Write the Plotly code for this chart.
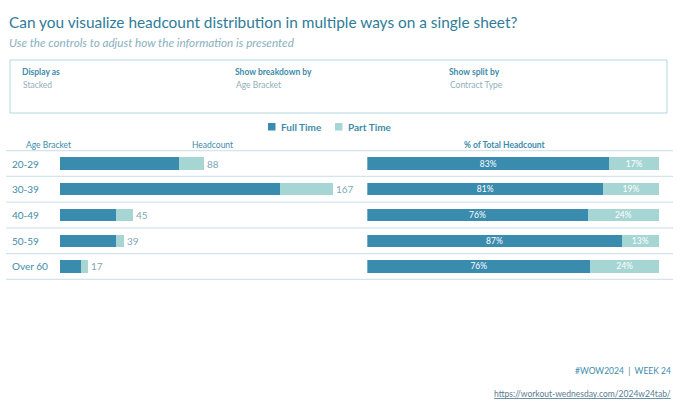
import plotly.graph_objects as go

categories = ["20-29", "30-39", "40-49", "50-59", "Over 60"]
full_time = [73, 135, 34, 34, 13]
part_time = [15, 32, 11, 5, 4]
series_names = ["Full Time", "Part Time"]

totals = [f + p for f, p in zip(full_time, part_time)]
ft_pct = [f / t for f, t in zip(full_time, totals)]
pt_pct = [p / t for p, t in zip(part_time, totals)]

C_FT = "#3A8CAF"
C_PT = "#A5D6D3"
TEAL = "#3E8BAA"
TITLE = "#2F7C98"
GRAY = "#8AAFBF"
FONT = "Lato"
colors = [C_FT, C_PT]

W, H = 680, 408
def px(x):
    return x / W
def py(y):
    return 1 - y / H

fig = go.Figure()
fig.add_trace(go.Bar(y=categories, x=full_time, orientation="h", name=series_names[0],
                     marker=dict(color=C_FT, line=dict(width=0)), xaxis="x", yaxis="y",
                     hoverinfo="skip"))
fig.add_trace(go.Bar(y=categories, x=part_time, orientation="h", name=series_names[1],
                     marker=dict(color=C_PT, line=dict(width=0)), xaxis="x", yaxis="y",
                     hoverinfo="skip"))
fig.add_trace(go.Bar(y=categories, x=ft_pct, orientation="h", name=series_names[0],
                     marker=dict(color=C_FT, line=dict(width=0)), xaxis="x2", yaxis="y",
                     text=[f"{v:.0%}" for v in ft_pct],
                     textposition="inside", insidetextanchor="middle",
                     textfont=dict(color="white", size=8.5, family=FONT), hoverinfo="skip"))
fig.add_trace(go.Bar(y=categories, x=pt_pct, orientation="h", name=series_names[1],
                     marker=dict(color=C_PT, line=dict(width=0)), xaxis="x2", yaxis="y",
                     text=[f"{v:.0%}" for v in pt_pct],
                     textposition="inside", insidetextanchor="middle",
                     textfont=dict(color="white", size=8.5, family=FONT), hoverinfo="skip"))

annotations = []
shapes = []

# title / subtitle
annotations.append(dict(text="Can you visualize headcount distribution in multiple ways on a single sheet?",
                        x=px(7), y=py(22), xref="paper", yref="paper", xanchor="left", yanchor="middle",
                        showarrow=False, font=dict(size=15.4, color=TITLE, family=FONT)))
annotations.append(dict(text="<i>Use the controls to adjust how the information is presented</i>",
                        x=px(7), y=py(42), xref="paper", yref="paper", xanchor="left", yanchor="middle",
                        showarrow=False, font=dict(size=11.7, color=GRAY, family=FONT)))

# control box
shapes.append(dict(type="rect", xref="paper", yref="paper", x0=px(10), x1=px(667), y0=py(60), y1=py(113),
                   line=dict(color="#B5D5E3", width=1), fillcolor="white", layer="below"))
controls = [("Display as", "Stacked", 20), ("Show breakdown by", "Age Bracket", 233),
            ("Show split by", "Contract Type", 447)]
for lab, val, x in controls:
    annotations.append(dict(text=f"<b>{lab}</b>", x=px(x), y=py(72), xref="paper", yref="paper",
                            xanchor="left", yanchor="middle", showarrow=False,
                            font=dict(size=8.5, color=TEAL, family=FONT)))
    annotations.append(dict(text=val, x=px(x + 1), y=py(85), xref="paper", yref="paper",
                            xanchor="left", yanchor="middle", showarrow=False,
                            font=dict(size=8.5, color="#93AEB9", family=FONT)))

# legend (drawn manually)
for name, col, x in zip(series_names, colors, [268, 335]):
    shapes.append(dict(type="rect", xref="paper", yref="paper", x0=px(x), x1=px(x + 7.5),
                       y0=py(130.5), y1=py(123), line=dict(width=0), fillcolor=col))
    annotations.append(dict(text=f"<b>{name}</b>", x=px(x + 11), y=py(127), xref="paper", yref="paper",
                            xanchor="left", yanchor="middle", showarrow=False,
                            font=dict(size=10, color=TEAL, family=FONT)))

# headers
for txt, x, bold in [("Age Bracket", 48, False), ("Headcount", 212, False), ("% of Total Headcount", 505, True)]:
    annotations.append(dict(text=f"<b>{txt}</b>" if bold else txt, x=px(x), y=py(145), xref="paper", yref="paper",
                            xanchor="center", yanchor="middle", showarrow=False,
                            font=dict(size=8.5, color=TEAL, family=FONT)))

# category labels and totals
for i, c in enumerate(categories):
    annotations.append(dict(text=c, x=px(10), y=c, xref="paper", yref="y", xanchor="left",
                            yanchor="middle", showarrow=False, font=dict(size=10, color=TEAL, family=FONT)))
    annotations.append(dict(text=str(totals[i]), x=totals[i], y=c, xref="x", yref="y", xanchor="left",
                            xshift=1, yanchor="middle", showarrow=False,
                            font=dict(size=10, color="#7FA6B5", family=FONT)))

# row separators
for i in range(len(categories) + 1):
    shapes.append(dict(type="line", xref="paper", yref="y", x0=px(6), x1=px(673), y0=i - 0.5, y1=i - 0.5,
                       line=dict(color="#D3E4EC", width=1.3)))

# footer
annotations.append(dict(text="#WOW2024  |  WEEK 24", x=px(673), y=py(371), xref="paper", yref="paper",
                        xanchor="right", yanchor="middle", showarrow=False,
                        font=dict(size=8.5, color=TEAL, family=FONT)))
annotations.append(dict(text="<u>https://workout-wednesday.com/2024w24tab/</u>", x=px(673), y=py(394),
                        xref="paper", yref="paper", xanchor="right", yanchor="middle", showarrow=False,
                        font=dict(size=8.5, color="#5A7D92", family=FONT)))

fig.update_layout(
    width=W, height=H, margin=dict(l=0, r=0, t=0, b=0),
    paper_bgcolor="white", plot_bgcolor="rgba(0,0,0,0)",
    barmode="stack", bargap=0.52, showlegend=False,
    uniformtext=dict(minsize=8.5, mode="show"),
    font=dict(family=FONT, color=TEAL),
    xaxis=dict(domain=[px(60), px(360)], range=[0, 300 / 1.633], visible=False, fixedrange=True),
    xaxis2=dict(domain=[px(367.3), px(659)], range=[0, 1], visible=False, fixedrange=True),
    yaxis=dict(domain=[py(280), py(150)], categoryorder="array", categoryarray=categories,
               autorange="reversed", visible=False, fixedrange=True),
    annotations=annotations, shapes=shapes,
)

fig.write_html("out.html", config={"displayModeBar": False},
               post_script="document.body.style.margin='0px';document.body.style.padding='0px';")
